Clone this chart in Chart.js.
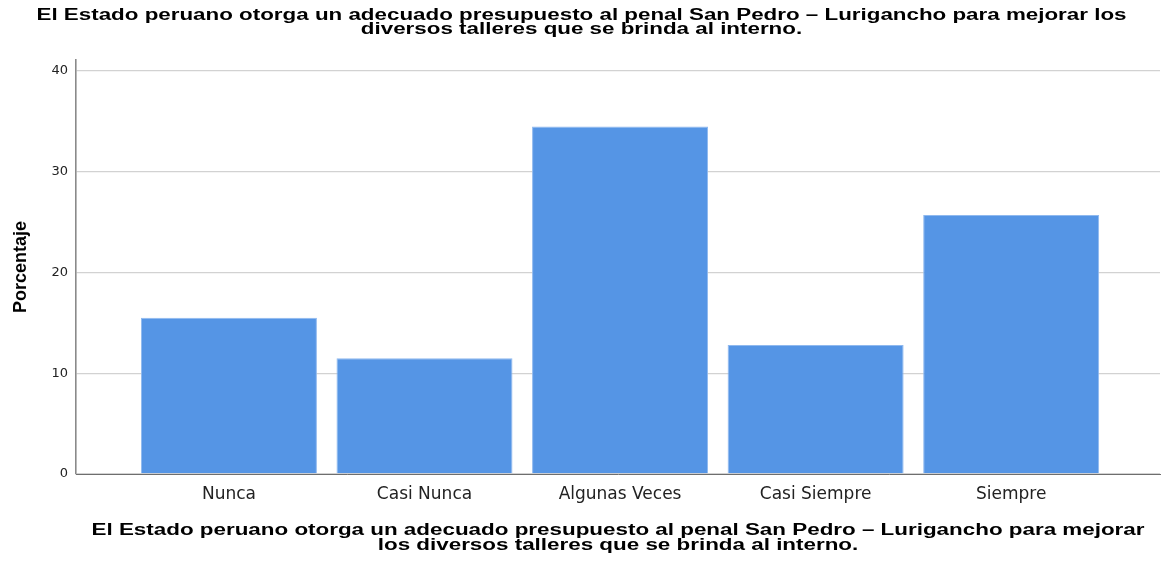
<!DOCTYPE html>
<html lang="es">
<head>
<meta charset="utf-8">
<title>Porcentaje</title>
<script src="https://cdn.jsdelivr.net/npm/chart.js@4.4.1/dist/chart.umd.min.js"></script>
<style>
  html, body { margin: 0; padding: 0; background: #fff; }
  #wrap { width: 1163px; height: 563px; }
</style>
</head>
<body>
<div id="wrap"><canvas id="grafico"></canvas></div>
<script>
// Datos
const categorias = ['Nunca', 'Casi Nunca', 'Algunas Veces', 'Casi Siempre', 'Siempre'];
const porcentajes = [15.5, 11.5, 34.5, 12.8, 25.7];
const ticksY = [0, 10, 20, 30, 40];

const tituloSuperior = [
    'El Estado peruano otorga un adecuado presupuesto al penal San Pedro – Lurigancho para mejorar los',
    'diversos talleres que se brinda al interno.'
];
const tituloEjeX = [
    'El Estado peruano otorga un adecuado presupuesto al penal San Pedro – Lurigancho para mejorar',
    'los diversos talleres que se brinda al interno.'
];
const tituloEjeY = 'Porcentaje';

// Dibuja varias líneas centradas, estiradas al ancho de la primera
function dibujarLineas(ctx, lineas, cx, y0, alto, fuente, anchoPrimera) {
    ctx.font = fuente;
    const sx = anchoPrimera / ctx.measureText(lineas[0]).width;
    lineas.forEach((texto, i) => {
        ctx.save();
        ctx.translate(cx, y0 + i * alto);
        ctx.scale(sx, 1);
        ctx.fillText(texto, 0, 0);
        ctx.restore();
    });
}

const pluginTitulos = {
    id: 'titulos',
    afterDraw(chart) {
        const ctx = chart.ctx;
        const area = chart.chartArea;
        ctx.save();
        ctx.fillStyle = '#000';
        ctx.textAlign = 'center';
        ctx.textBaseline = 'middle';
        dibujarLineas(ctx, tituloSuperior, chart.width / 2, 16, 14,
            'bold 16px "Liberation Sans", Arial, sans-serif', 1090);
        dibujarLineas(ctx, tituloEjeX, (area.left + area.right) / 2, 531, 15,
            'bold 16px "Liberation Sans", Arial, sans-serif', 1053);
        ctx.restore();
    }
};

const ctx = document.getElementById('grafico').getContext('2d');
new Chart(ctx, {
    type: 'bar',
    data: {
        datasets: [{
            label: tituloEjeY,
            data: categorias.map((c, i) => ({ x: i, y: porcentajes[i] })),
            backgroundColor: '#5595e5',
            borderColor: '#8fb9ef',
            borderWidth: 1,
            barPercentage: 0.9,
            categoryPercentage: 1.0
        }]
    },
    options: {
        responsive: true,
        maintainAspectRatio: false,
        animation: false,
        layout: { padding: { top: 60, right: 3, left: 0, bottom: 0 } },
        plugins: {
            legend: { display: false },
            tooltip: { enabled: false }
        },
        scales: {
            x: {
                type: 'linear',
                offset: false,
                min: -0.782,
                max: 4.761,
                afterBuildTicks(scale) {
                    scale.ticks = categorias.map((c, i) => ({ value: i }));
                },
                afterFit(scale) { scale.height = 89; },
                grid: { display: false, drawTicks: false },
                border: { color: '#6e6e6e', width: 1 },
                ticks: {
                    padding: 10,
                    color: '#222',
                    maxRotation: 0,
                    autoSkip: false,
                    font: { family: '"DejaVu Sans", sans-serif', size: 17 },
                    callback: (v) => categorias[v]
                }
            },
            y: {
                min: 0,
                max: 41.1,
                afterBuildTicks(scale) {
                    scale.ticks = ticksY.map(v => ({ value: v }));
                },
                afterFit(scale) { scale.width = 76; },
                grid: { color: '#d2d2d2', lineWidth: 1.3, drawTicks: false },
                border: { color: '#8a8a8a', width: 1.6 },
                ticks: {
                    padding: 8,
                    color: '#222',
                    font: { family: '"DejaVu Sans", sans-serif', size: 13 }
                },
                title: {
                    display: true,
                    text: tituloEjeY,
                    color: '#000',
                    padding: { top: 10, bottom: 0 },
                    font: { family: '"Liberation Sans", Arial, sans-serif', size: 18, weight: 'bold' }
                }
            }
        }
    },
    plugins: [pluginTitulos]
});
</script>
</body>
</html>
